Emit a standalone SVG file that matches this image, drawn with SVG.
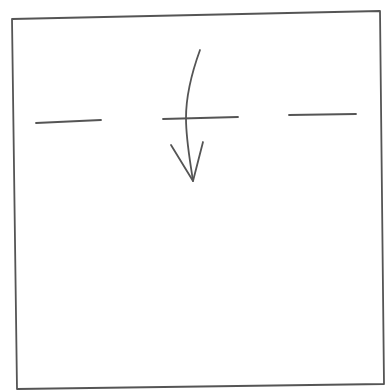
<svg xmlns="http://www.w3.org/2000/svg" width="386" height="392" viewBox="0 0 386 392">
<style>
.s{fill:none;stroke:#555;stroke-width:1.8;stroke-linecap:round;stroke-linejoin:round}
</style>
<rect width="386" height="392" fill="#fff"/>
<g id="frame"><path class="s" d="M12,19 L380,11 L384,384 L17,389 Z"/></g>
<g id="dash-left"><path class="s" d="M36,123 L101,120"/></g>
<g id="dash-middle"><path class="s" d="M163,119 L238,117"/></g>
<g id="dash-right"><path class="s" d="M289,115 L356,114"/></g>
<g id="connectors">
<path class="s" d="M200,50 C192,72 186,95 186,118 C186,140 190,160 193,181"/>
<path class="s" d="M171,145 L193,181 L203,142"/>
</g>
</svg>
